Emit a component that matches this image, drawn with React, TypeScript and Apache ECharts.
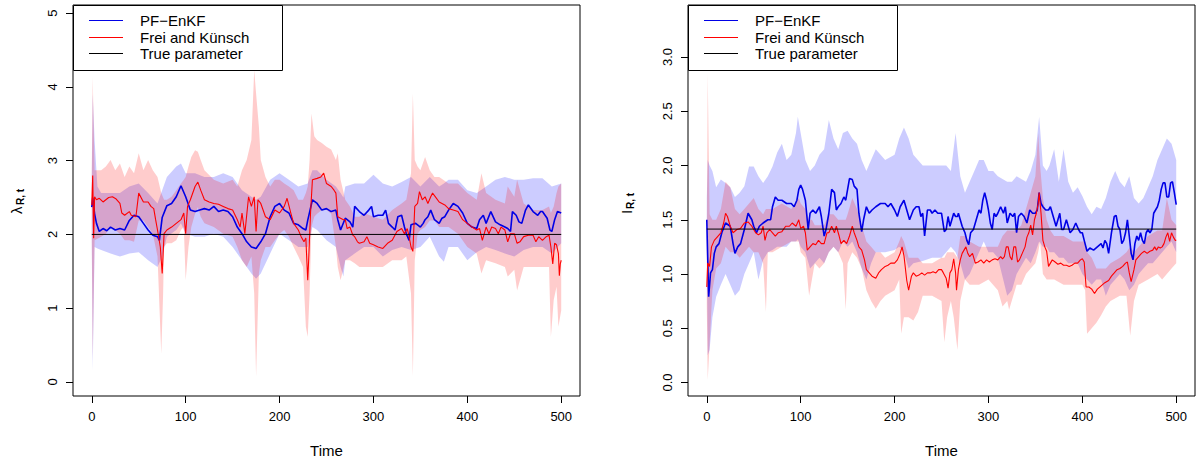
import React, { useEffect, useRef } from "react";
import * as echarts from "echarts";

// ---------- tick labels / text ----------
const timeTicks = [0, 100, 200, 300, 400, 500];
const lambdaTicks = [0, 1, 2, 3, 4, 5];
const iTicks = [0, 0.5, 1, 1.5, 2, 2.5, 3];
const legendLabels = ["PF\u2212EnKF", "Frei and Künsch", "True parameter"];
const xTitle = "Time";

// ---------- true parameters ----------
const trueLambda = 2;
const trueI = 1.414;

// ---------- left panel: lambda_{R,t} ----------
// PF-EnKF estimate [t, value]
const lambdaPF = [[0,2.37],[1,2.50],[3,2.28],[5,2.15],[8,2.04],[12,2.08],[16,2.05],[20,2.10],[25,2.06],[30,2.08],[35,2.06],[40,2.19],[45,2.26],[50,2.24],[55,2.15],[60,2.06],[65,1.99],[70,1.97],[72,1.92],[75,2.23],[80,2.39],[85,2.42],[90,2.51],[95,2.66],[100,2.51],[105,2.33],[110,2.31],[115,2.33],[120,2.35],[125,2.33],[130,2.38],[135,2.31],[140,2.33],[145,2.31],[150,2.24],[155,2.10],[160,2.01],[165,1.90],[170,1.83],[175,1.81],[180,1.90],[185,2.01],[190,2.24],[195,2.38],[200,2.42],[205,2.33],[210,2.29],[215,2.15],[220,2.13],[225,2.08],[228,2.06],[230,2.19],[235,2.47],[240,2.42],[245,2.33],[250,2.35],[255,2.31],[260,2.33],[262,2.20],[265,2.06],[270,2.22],[275,2.17],[278,2.10],[280,2.38],[285,2.31],[290,2.26],[295,2.33],[298,2.38],[300,2.24],[305,2.26],[310,2.26],[313,2.33],[316,2.15],[320,2.10],[323,2.06],[326,2.24],[330,2.26],[333,2.10],[335,2.01],[338,1.92],[340,2.13],[345,2.15],[350,2.10],[353,2.15],[355,2.20],[358,2.24],[361,2.33],[365,2.20],[370,2.15],[373,2.22],[376,2.24],[380,2.33],[385,2.42],[390,2.38],[395,2.29],[400,2.15],[405,2.10],[410,2.08],[413,2.20],[417,2.26],[420,2.15],[425,2.31],[430,2.17],[435,2.13],[440,2.10],[443,2.08],[446,2.04],[448,2.31],[452,2.26],[455,2.17],[458,2.15],[462,2.33],[465,2.40],[470,2.31],[475,2.26],[478,2.31],[480,2.31],[485,2.22],[488,2.06],[490,2.04],[493,2.20],[496,2.31],[500,2.29]];
// Frei and Künsch estimate [t, value]
const lambdaFK = [[0,2.40],[1,2.80],[2,1.95],[3,2.51],[5,2.47],[8,2.49],[12,2.44],[18,2.50],[22,2.51],[26,2.48],[30,2.42],[32,2.29],[35,2.26],[40,2.31],[42,2.26],[47,2.24],[50,2.56],[55,2.44],[60,2.44],[63,2.38],[66,2.35],[68,2.20],[70,2.06],[73,1.83],[75,1.47],[77,2.01],[80,2.06],[85,2.10],[90,2.15],[95,2.20],[98,2.29],[100,2.01],[102,2.38],[105,2.47],[110,2.65],[113,2.71],[116,2.60],[120,2.47],[125,2.44],[130,2.42],[135,2.41],[140,2.38],[145,2.35],[150,2.33],[155,2.20],[158,2.10],[160,2.29],[163,2.01],[167,2.51],[170,2.38],[173,2.51],[175,2.04],[177,2.47],[180,2.42],[185,2.24],[190,2.20],[195,2.33],[200,2.29],[205,2.38],[208,2.49],[212,2.29],[215,2.15],[220,2.06],[223,1.97],[226,1.90],[228,1.95],[230,1.38],[231,1.65],[233,2.29],[235,2.74],[240,2.76],[244,2.78],[247,2.83],[250,2.69],[255,2.65],[258,2.60],[260,2.56],[262,2.24],[265,2.22],[268,2.20],[270,2.20],[272,2.08],[275,2.10],[278,1.99],[280,1.97],[283,1.90],[285,1.88],[290,1.90],[293,1.97],[296,1.88],[300,1.86],[305,1.83],[310,1.81],[315,1.88],[320,1.92],[325,2.04],[330,2.08],[333,2.01],[336,2.08],[338,1.97],[340,1.83],[342,1.77],[344,2.38],[347,2.42],[349,2.58],[352,2.47],[355,2.51],[358,2.42],[361,2.51],[363,2.56],[366,2.51],[370,2.44],[373,2.42],[376,2.40],[380,2.35],[385,2.33],[390,2.31],[395,2.20],[400,2.15],[405,2.10],[410,2.06],[413,2.08],[416,1.92],[420,2.10],[423,2.01],[426,2.10],[430,2.08],[433,2.01],[436,2.10],[440,2.06],[443,1.90],[446,2.01],[450,2.01],[453,1.88],[456,1.90],[460,1.97],[465,1.99],[470,1.99],[473,1.90],[476,1.97],[480,1.92],[484,1.97],[487,1.99],[489,1.83],[491,1.60],[493,1.88],[495,1.86],[497,1.74],[498,1.44],[499,1.60],[500,1.65]];
// bands [t, lower, upper]
const lambdaPFBand = [[0,1.90,2.80],[1,0.15,3.90],[3,1.83,3.28],[6,1.81,2.65],[10,1.79,2.56],[20,1.74,2.56],[30,1.70,2.56],[40,1.74,2.65],[50,1.76,2.69],[60,1.65,2.56],[70,1.56,2.42],[75,1.70,2.60],[80,1.97,2.78],[90,2.06,2.92],[95,2.15,2.96],[100,2.01,2.83],[110,1.97,2.83],[120,1.97,2.78],[130,2.01,2.78],[140,1.97,2.83],[150,1.83,2.78],[160,1.65,2.60],[170,1.47,2.51],[175,1.40,2.47],[180,1.47,2.51],[190,1.74,2.74],[200,2.01,2.83],[210,1.92,2.74],[220,1.83,2.65],[230,1.83,2.69],[235,2.10,2.87],[240,2.06,2.87],[250,1.92,2.74],[260,1.83,2.65],[265,1.56,2.56],[268,1.43,2.50],[270,1.65,2.65],[280,1.74,2.69],[290,1.83,2.69],[300,1.83,2.81],[310,1.70,2.69],[320,1.79,2.65],[330,1.83,2.71],[340,1.79,2.78],[350,1.83,2.65],[360,1.97,2.78],[370,1.70,2.65],[375,1.63,2.69],[380,1.83,2.74],[390,1.83,2.74],[400,1.65,2.60],[410,1.76,2.56],[420,1.83,2.65],[430,1.79,2.74],[440,1.74,2.78],[450,1.70,2.74],[460,1.79,2.74],[470,1.83,2.76],[480,1.83,2.76],[490,1.74,2.65],[500,1.88,2.69]];
const lambdaFKBand = [[0,1.90,2.90],[1,0.30,4.14],[3,1.92,2.87],[10,1.97,2.87],[15,2.01,2.92],[20,2.10,3.01],[25,2.06,2.87],[30,2.01,2.96],[35,1.92,2.78],[40,1.92,2.92],[45,1.90,2.83],[50,2.19,3.10],[55,2.19,2.87],[60,2.10,3.01],[65,2.01,2.87],[70,1.70,2.78],[74,0.38,2.56],[76,1.20,2.50],[77,1.83,2.47],[80,1.88,2.47],[85,1.88,2.51],[90,1.92,2.60],[95,2.06,2.69],[98,2.10,2.74],[100,1.38,2.78],[103,1.83,2.92],[106,2.10,3.05],[110,2.28,3.14],[113,2.37,3.12],[116,2.24,3.01],[120,2.15,2.87],[130,2.10,2.74],[140,2.01,2.69],[150,1.97,2.74],[155,1.83,2.65],[160,1.65,2.87],[165,1.56,3.01],[170,1.70,3.28],[173,1.20,4.23],[175,0.07,3.91],[178,1.47,3.46],[180,1.65,3.01],[185,1.83,2.78],[190,1.83,2.65],[195,1.92,2.74],[200,2.01,2.74],[205,2.06,2.69],[210,1.97,2.65],[215,1.83,2.60],[220,1.70,2.47],[225,1.56,2.47],[228,0.75,2.56],[230,0.61,2.65],[232,1.20,3.01],[234,2.10,3.64],[237,2.24,3.33],[240,2.28,3.28],[245,2.33,3.24],[250,2.33,3.19],[255,2.28,3.15],[260,1.83,3.01],[262,1.56,3.10],[265,1.38,2.74],[270,1.65,2.47],[275,1.65,2.38],[280,1.61,2.24],[285,1.56,2.24],[290,1.56,2.29],[300,1.56,2.24],[310,1.56,2.20],[320,1.65,2.33],[330,1.65,2.42],[335,1.70,2.47],[340,1.20,2.83],[342,0.07,3.91],[344,1.65,3.01],[347,2.01,2.92],[350,2.06,2.87],[355,2.10,3.05],[360,2.19,2.87],[365,2.19,2.78],[370,2.10,2.78],[380,2.10,2.69],[390,2.01,2.69],[400,1.83,2.56],[410,1.74,2.47],[415,1.47,2.83],[420,1.65,2.56],[430,1.61,2.47],[440,1.56,2.42],[443,1.43,2.65],[450,1.52,2.51],[453,1.24,2.74],[460,1.56,2.42],[470,1.56,2.33],[480,1.56,2.33],[487,1.56,2.38],[489,0.61,2.29],[492,1.11,2.38],[495,1.29,2.56],[497,0.75,2.65],[500,0.97,2.69]];

// ---------- right panel: I_{R,t} ----------
const iPF = [[0,1.50],[2,0.79],[4,1.01],[6,1.04],[8,1.19],[10,1.25],[13,1.28],[16,1.38],[20,1.47],[25,1.44],[28,1.28],[30,1.19],[33,1.25],[36,1.28],[40,1.41],[44,1.56],[48,1.50],[50,1.44],[53,1.38],[56,1.44],[60,1.47],[65,1.50],[68,1.50],[70,1.62],[73,1.71],[76,1.68],[80,1.68],[85,1.65],[90,1.65],[93,1.62],[96,1.68],[98,1.78],[100,1.82],[102,1.78],[105,1.68],[107,1.50],[108,1.41],[110,1.56],[113,1.59],[116,1.56],[120,1.62],[122,1.53],[125,1.35],[127,1.41],[130,1.56],[133,1.78],[136,1.75],[138,1.59],[140,1.62],[143,1.65],[146,1.71],[148,1.68],[150,1.78],[152,1.88],[155,1.87],[157,1.81],[160,1.78],[162,1.56],[165,1.39],[167,1.50],[170,1.62],[173,1.56],[176,1.59],[180,1.62],[185,1.65],[190,1.65],[193,1.62],[196,1.65],[200,1.59],[203,1.53],[206,1.62],[210,1.68],[213,1.59],[216,1.50],[220,1.59],[223,1.62],[226,1.62],[228,1.53],[230,1.56],[232,1.35],[235,1.59],[238,1.59],[240,1.56],[243,1.59],[246,1.56],[250,1.56],[253,1.39],[255,1.41],[257,1.53],[259,1.44],[261,1.50],[263,1.56],[265,1.53],[267,1.53],[268,1.56],[270,1.50],[272,1.44],[275,1.38],[277,1.31],[279,1.27],[281,1.38],[284,1.41],[287,1.50],[290,1.59],[292,1.56],[294,1.68],[296,1.75],[298,1.68],[300,1.59],[302,1.47],[304,1.41],[306,1.56],[308,1.53],[310,1.56],[313,1.62],[316,1.56],[318,1.62],[320,1.47],[323,1.56],[326,1.53],[328,1.56],[330,1.38],[332,1.53],[335,1.56],[338,1.53],[341,1.47],[344,1.59],[347,1.56],[350,1.56],[352,1.59],[354,1.75],[356,1.65],[358,1.62],[361,1.59],[364,1.59],[366,1.62],[368,1.56],[370,1.50],[372,1.44],[374,1.50],[376,1.56],[378,1.41],[380,1.41],[383,1.50],[385,1.44],[387,1.38],[390,1.41],[393,1.47],[396,1.41],[398,1.38],[400,1.38],[402,1.31],[405,1.21],[408,1.24],[412,1.22],[416,1.25],[420,1.28],[422,1.24],[424,1.31],[426,1.28],[428,1.19],[431,1.38],[434,1.53],[436,1.54],[438,1.44],[440,1.41],[442,1.28],[444,1.31],[446,1.38],[448,1.50],[450,1.35],[452,1.19],[454,1.13],[456,1.28],[458,1.35],[460,1.31],[462,1.38],[464,1.31],[466,1.28],[468,1.38],[470,1.41],[472,1.38],[474,1.41],[476,1.56],[478,1.59],[480,1.62],[482,1.68],[484,1.78],[486,1.84],[488,1.84],[490,1.71],[492,1.71],[494,1.84],[496,1.85],[498,1.75],[500,1.64]];
const iFK = [[0,0.88],[1,1.10],[3,1.07],[5,1.25],[8,1.31],[12,1.35],[15,1.38],[18,1.47],[20,1.56],[22,1.53],[25,1.44],[28,1.38],[32,1.41],[36,1.42],[40,1.47],[44,1.48],[48,1.44],[52,1.38],[55,1.36],[58,1.38],[60,1.44],[62,1.31],[64,1.38],[67,1.41],[70,1.38],[73,1.35],[76,1.38],[80,1.39],[84,1.44],[88,1.44],[91,1.47],[95,1.44],[98,1.50],[100,1.42],[103,1.44],[105,1.38],[107,1.22],[110,1.25],[113,1.28],[116,1.27],[119,1.31],[122,1.28],[125,1.28],[128,1.38],[130,1.38],[133,1.44],[136,1.38],[138,1.44],[141,1.35],[143,1.28],[146,1.31],[149,1.28],[152,1.35],[155,1.44],[157,1.38],[160,1.31],[162,1.25],[165,1.22],[168,1.13],[170,1.04],[173,1.01],[176,0.98],[180,0.96],[183,1.01],[186,1.04],[190,1.07],[193,1.08],[196,1.10],[200,1.10],[203,1.13],[206,1.19],[208,1.25],[210,1.17],[213,0.94],[215,0.85],[218,0.98],[220,1.01],[223,0.98],[226,0.99],[229,1.01],[232,0.99],[235,1.01],[238,1.01],[241,1.02],[244,1.01],[247,1.04],[250,1.04],[252,1.01],[255,0.96],[257,0.87],[259,1.01],[261,1.04],[263,1.14],[265,1.01],[266,0.85],[268,1.04],[270,1.13],[272,1.19],[274,1.22],[276,1.25],[278,1.19],[280,1.16],[283,1.19],[286,1.10],[289,1.11],[292,1.13],[295,1.10],[298,1.13],[301,1.11],[304,1.13],[307,1.14],[310,1.13],[313,1.16],[315,1.14],[317,1.16],[319,1.25],[321,1.25],[323,1.16],[325,1.13],[327,1.25],[329,1.25],[331,1.11],[333,1.13],[336,1.19],[339,1.25],[341,1.34],[343,1.38],[345,1.45],[347,1.36],[349,1.50],[351,1.56],[353,1.65],[354,1.75],[356,1.56],[358,1.31],[360,1.25],[362,1.21],[364,1.07],[366,1.10],[368,1.13],[371,1.11],[374,1.09],[377,1.10],[380,1.08],[383,1.08],[386,1.07],[389,1.08],[392,1.10],[395,1.10],[398,1.13],[400,1.14],[402,1.11],[404,0.88],[407,0.88],[410,0.86],[413,0.82],[416,0.86],[420,0.89],[424,0.92],[428,0.94],[431,0.98],[434,1.01],[437,1.04],[440,1.05],[443,1.07],[446,1.10],[448,1.11],[450,1.01],[452,0.93],[455,1.04],[457,1.13],[460,1.16],[463,1.19],[466,1.21],[469,1.19],[472,1.21],[475,1.22],[477,1.25],[479,1.22],[481,1.25],[483,1.24],[485,1.25],[487,1.28],[489,1.34],[491,1.38],[493,1.30],[495,1.38],[497,1.34],[499,1.31],[500,1.31]];
const iPFBand = [[0,1.30,1.70],[1,0.25,2.05],[3,0.30,2.00],[6,0.60,1.95],[10,0.79,1.80],[15,0.90,1.87],[20,1.00,1.84],[25,0.90,1.80],[30,0.80,1.71],[35,0.85,1.75],[40,1.00,1.81],[45,1.10,1.99],[50,1.20,1.99],[55,0.95,1.90],[60,1.13,1.84],[65,1.20,1.90],[70,1.22,1.99],[75,1.25,2.12],[80,1.25,2.20],[85,1.25,2.05],[90,1.30,2.10],[95,1.30,2.30],[97,1.32,2.45],[100,1.25,2.30],[105,1.20,2.05],[110,1.05,1.95],[115,1.10,2.00],[120,1.15,2.10],[125,1.10,2.15],[130,1.20,2.42],[135,1.25,2.25],[140,1.20,2.15],[145,1.30,2.30],[150,1.25,2.32],[155,1.30,2.25],[160,1.20,2.20],[165,1.05,2.05],[170,0.95,1.95],[175,1.10,2.05],[180,1.20,2.15],[190,1.20,2.05],[200,1.22,2.10],[205,1.25,2.25],[210,1.20,2.35],[215,1.05,2.25],[220,1.10,2.10],[230,1.12,2.00],[240,1.15,2.00],[250,1.15,2.00],[255,1.20,2.00],[260,1.25,1.95],[265,1.20,2.30],[270,1.10,1.90],[275,0.95,1.75],[280,1.00,1.85],[285,1.10,1.95],[290,1.20,2.05],[295,1.30,2.05],[300,1.20,1.95],[305,1.20,1.95],[310,1.15,1.90],[320,0.80,1.85],[325,0.85,1.85],[330,1.00,1.90],[340,1.15,1.85],[345,1.10,1.95],[350,1.20,2.10],[354,1.30,2.45],[358,1.25,2.00],[362,1.25,1.95],[365,1.20,2.00],[370,1.20,2.15],[375,1.15,1.85],[380,1.15,2.15],[385,1.10,1.85],[390,1.10,1.75],[395,1.10,1.80],[400,1.00,1.72],[405,0.95,1.62],[410,0.90,1.55],[415,0.95,1.62],[420,0.95,1.60],[425,0.80,1.70],[430,0.90,1.85],[435,0.95,1.95],[440,1.00,1.85],[445,0.95,1.80],[450,0.85,1.90],[455,0.90,1.70],[460,1.00,1.65],[465,1.05,1.70],[470,1.10,1.80],[475,1.10,1.90],[480,1.15,2.05],[485,1.20,2.15],[490,1.25,2.25],[495,1.30,2.20],[500,1.20,2.05]];
const iFKBand = [[0,0.70,1.30],[1,0.02,2.85],[3,0.35,1.55],[6,0.85,1.50],[10,1.05,1.50],[15,1.10,1.60],[20,1.25,1.85],[25,1.20,1.80],[30,1.20,1.60],[35,1.15,1.55],[40,1.20,1.60],[45,1.25,1.65],[50,1.20,1.70],[55,1.20,1.60],[60,1.10,1.55],[63,0.65,1.60],[65,1.20,1.60],[70,1.20,1.60],[80,1.25,1.65],[90,1.30,1.60],[98,1.30,1.70],[100,1.20,1.65],[105,1.15,1.60],[109,0.80,1.50],[112,0.95,1.50],[115,1.10,1.45],[120,1.05,1.45],[125,1.10,1.45],[130,1.20,1.55],[135,1.25,1.55],[140,1.20,1.50],[145,1.10,1.50],[148,0.67,1.50],[150,1.10,1.55],[155,1.20,1.70],[160,1.15,1.60],[165,1.05,1.45],[170,0.85,1.30],[175,0.75,1.25],[180,0.68,1.20],[185,0.75,1.20],[190,0.80,1.15],[200,0.85,1.20],[205,0.95,1.30],[207,0.45,1.35],[210,0.60,1.30],[215,0.60,1.15],[220,0.57,1.15],[225,0.65,1.15],[230,0.80,1.10],[240,0.80,1.10],[250,0.75,1.15],[253,0.37,1.15],[256,0.60,1.20],[260,0.75,1.20],[263,0.60,1.20],[267,0.30,1.15],[270,0.75,1.35],[275,0.95,1.35],[280,0.90,1.30],[290,0.90,1.25],[300,0.95,1.25],[310,0.85,1.25],[315,0.70,1.35],[320,0.75,1.40],[322,0.67,1.40],[330,0.90,1.40],[335,0.90,1.45],[340,1.00,1.60],[345,1.05,1.75],[350,1.10,1.90],[353,1.20,2.30],[355,1.30,2.00],[358,1.00,1.70],[362,0.95,1.50],[366,0.95,1.40],[370,0.95,1.35],[380,0.90,1.35],[390,0.90,1.30],[400,0.90,1.30],[403,0.85,1.30],[405,0.45,1.20],[410,0.50,1.15],[415,0.55,1.05],[420,0.62,1.05],[425,0.70,1.05],[430,0.75,1.10],[440,0.80,1.15],[447,0.80,1.20],[451,0.43,1.25],[455,0.75,1.20],[460,0.90,1.25],[470,0.95,1.35],[480,1.00,1.40],[485,0.95,1.40],[490,1.00,1.70],[495,1.05,1.50],[500,1.10,1.45]];

// ---------- styling ----------
const FONT = "'Liberation Sans', Arial, Helvetica, sans-serif";
const BLUE = "#0000e6";
const RED = "#ff0000";
const BLUE_FILL = "rgba(0,0,255,0.2)";
const RED_FILL = "rgba(255,0,0,0.2)";

function bandSeries(data: number[][], color: string, idx: number) {
  return {
    type: "custom",
    xAxisIndex: idx,
    yAxisIndex: idx,
    data,
    encode: { x: 0, y: [1, 2] },
    silent: true,
    renderItem: (params: any, api: any) => {
      if (params.dataIndex !== 0) return null;
      const upper = data.map((d) => api.coord([d[0], d[2]]));
      const lower = data.map((d) => api.coord([d[0], d[1]])).reverse();
      return {
        type: "polygon",
        shape: { points: upper.concat(lower) },
        style: { fill: color, stroke: null },
      };
    },
  };
}

function lineSeries(data: number[][], color: string, width: number, idx: number) {
  return {
    type: "line",
    xAxisIndex: idx,
    yAxisIndex: idx,
    data,
    showSymbol: false,
    symbol: "none",
    silent: true,
    lineStyle: { color, width },
  };
}

function xAxisCfg(idx: number) {
  return {
    type: "value",
    gridIndex: idx,
    min: -20,
    max: 520,
    name: xTitle,
    nameLocation: "middle",
    nameGap: 47,
    nameTextStyle: { fontFamily: FONT, fontSize: 15, color: "#000" },
    axisLine: { show: false, onZero: false },
    splitLine: { show: false },
    axisTick: { show: true, length: 7, lineStyle: { color: "#000" }, customValues: timeTicks },
    axisLabel: { fontFamily: FONT, fontSize: 13, color: "#000", margin: 14, customValues: timeTicks },
  };
}

function yAxisCfg(idx: number, min: number, max: number, ticks: number[], digits: number) {
  return {
    type: "value",
    gridIndex: idx,
    min,
    max,
    axisLine: { show: false, onZero: false },
    splitLine: { show: false },
    axisTick: { show: true, length: 7, lineStyle: { color: "#000" }, customValues: ticks },
    axisLabel: {
      fontFamily: FONT,
      fontSize: 13,
      color: "#000",
      rotate: 90,
      margin: 14,
      customValues: ticks,
      formatter: (v: number) => v.toFixed(digits),
    },
  };
}

function legendGraphic(x: number, w: number) {
  const colors = [BLUE, RED, "#000"];
  const rows = [20.5, 37.5, 53.5];
  const children: any[] = [
    {
      type: "rect",
      shape: { x: x + 0.5, y: 5.5, width: w, height: 65 },
      style: { fill: "#fff", stroke: "#000", lineWidth: 1 },
    },
  ];
  rows.forEach((ry, i) => {
    children.push({
      type: "line",
      shape: { x1: x + 16, y1: ry, x2: x + 50, y2: ry },
      style: { stroke: colors[i], lineWidth: 1 },
    });
    children.push({
      type: "text",
      x: x + 67,
      y: ry,
      style: {
        text: legendLabels[i],
        font: `15px ${FONT}`,
        fill: "#000",
        textAlign: "left",
        textVerticalAlign: "middle",
      },
    });
  });
  return { type: "group", z: 100, children };
}

function yTitle(x: number, y: number, main: string) {
  return {
    type: "group",
    x,
    y,
    rotation: Math.PI / 2,
    z: 100,
    children: [
      {
        type: "text",
        x: 0,
        y: 0,
        style: { text: main, font: `15px ${FONT}`, fill: "#000", textAlign: "left", textVerticalAlign: "middle" },
      },
      {
        type: "text",
        x: main === "\u03bb" ? 9 : 5,
        y: 4,
        style: { text: "R, t", font: `bold 10px ${FONT}`, fill: "#000", textAlign: "left", textVerticalAlign: "middle" },
      },
    ],
  };
}

export default function App() {
  const ref = useRef<HTMLDivElement>(null);
  useEffect(() => {
    if (!ref.current) return;
    const chart = echarts.init(ref.current, null, { renderer: "svg" });
    const option: any = {
      animation: false,
      backgroundColor: "#fff",
      grid: [
        { left: 73, top: 5, width: 507, height: 391, show: true, borderColor: "#000", borderWidth: 1, backgroundColor: "transparent" },
        { left: 688, top: 5, width: 507, height: 391, show: true, borderColor: "#000", borderWidth: 1, backgroundColor: "transparent" },
      ],
      xAxis: [xAxisCfg(0), xAxisCfg(1)],
      yAxis: [
        yAxisCfg(0, -0.19, 5.11, lambdaTicks, 0),
        yAxisCfg(1, -0.125, 3.48, iTicks, 1),
      ],
      series: [
        bandSeries(lambdaPFBand, BLUE_FILL, 0),
        bandSeries(lambdaFKBand, RED_FILL, 0),
        lineSeries(lambdaPF, BLUE, 1.6, 0),
        lineSeries(lambdaFK, RED, 1.1, 0),
        lineSeries([[0, trueLambda], [500, trueLambda]], "#000", 1, 0),
        bandSeries(iPFBand, BLUE_FILL, 1),
        bandSeries(iFKBand, RED_FILL, 1),
        lineSeries(iPF, BLUE, 1.6, 1),
        lineSeries(iFK, RED, 1.1, 1),
        lineSeries([[0, trueI], [500, trueI]], "#000", 1, 1),
      ],
      graphic: [
        legendGraphic(73, 209),
        legendGraphic(688, 209),
        yTitle(16, 214, "\u03bb"),
        yTitle(626, 214, "I"),
      ],
    };
    chart.setOption(option);
    return () => chart.dispose();
  }, []);
  return (
    <div
      ref={ref}
      style={{ position: "fixed", left: 0, top: 0, width: 1198, height: 464, background: "#fff" }}
    />
  );
}
